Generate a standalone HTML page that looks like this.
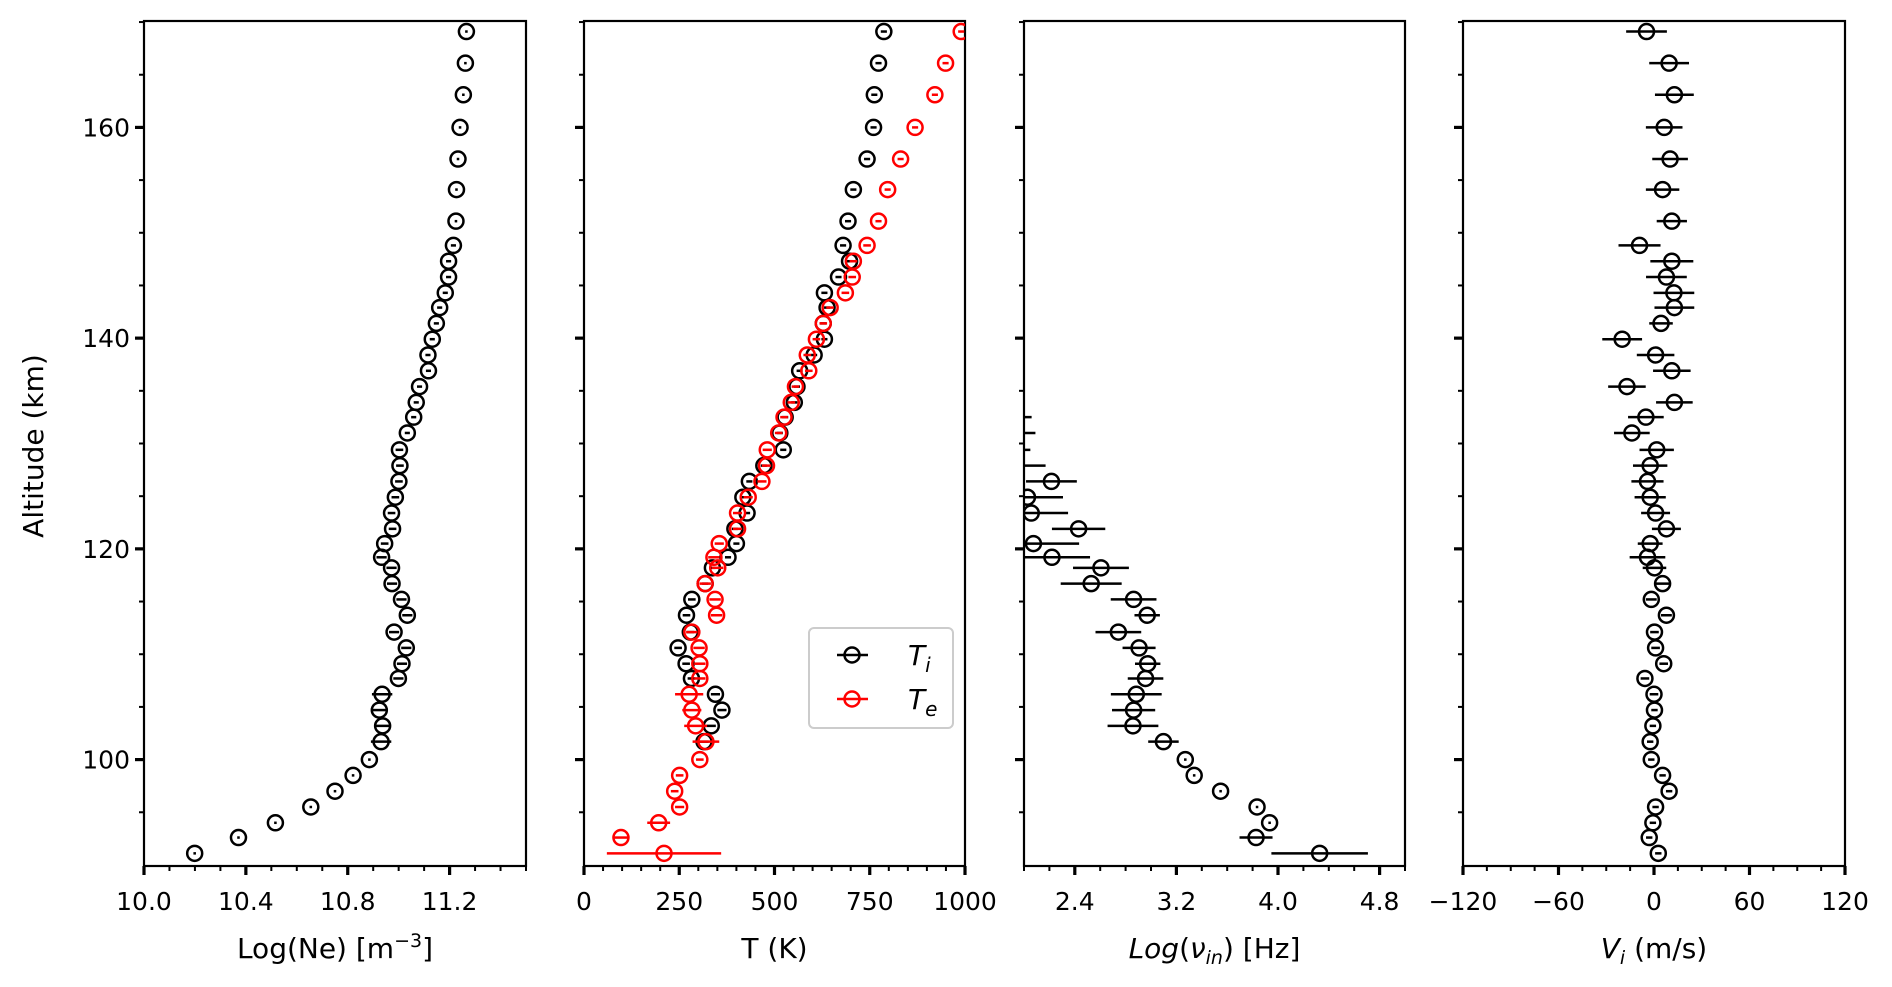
<!DOCTYPE html>
<html><head><meta charset="utf-8"><style>
html,body{margin:0;padding:0;background:#fff;}
svg{display:block;font-family:"DejaVu Sans","Liberation Sans",sans-serif;}
</style></head><body>
<svg id="fig" width="1892" height="987" viewBox="0 0 1892 987" xmlns="http://www.w3.org/2000/svg"></svg>
<script>
const altitudes=[169.1,166.1,163.1,160.0,157.0,154.1,151.1,148.8,147.3,145.8,144.3,142.9,141.4,139.9,138.4,136.9,135.4,133.9,132.5,131.0,129.4,127.9,126.4,124.9,123.4,121.9,120.5,119.2,118.2,116.7,115.2,113.7,112.1,110.6,109.1,107.7,106.2,104.7,103.2,101.7,100.0,98.5,97.0,95.5,94.0,92.6,91.1];
const logNe=[11.266,11.262,11.254,11.241,11.233,11.227,11.225,11.215,11.196,11.196,11.183,11.161,11.148,11.132,11.115,11.117,11.082,11.069,11.059,11.034,11.003,11.005,11.001,10.987,10.972,10.976,10.945,10.933,10.972,10.974,11.011,11.034,10.982,11.030,11.013,10.999,10.935,10.924,10.937,10.931,10.885,10.821,10.750,10.655,10.516,10.371,10.199];
const logNeErr=[0.005,0.005,0.005,0.005,0.005,0.005,0.005,0.01,0.01,0.01,0.01,0.01,0.01,0.01,0.01,0.01,0.01,0.01,0.01,0.01,0.015,0.015,0.015,0.015,0.015,0.015,0.015,0.02,0.02,0.02,0.02,0.02,0.02,0.02,0.02,0.02,0.04,0.03,0.03,0.04,0.005,0.005,0.005,0.005,0.005,0.005,0.005];
const Ti=[787,773,762,760,743,707,693,680,697,668,631,638,628,631,604,566,559,552,528,514,523,472,434,417,428,396,400,378,337,318,283,269,279,247,268,282,345,362,334,315,null,null,null,null,null,null,null];
const TiErr=[8,8,8,8,8,8,8,8,8,8,8,8,8,8,8,8,8,8,8,8,8,8,8,8,8,8,8,8,8,8,10,10,10,10,10,10,12,12,12,12,0,0,0,0,0,0,0];
const Te=[990,949,921,869,831,797,773,743,707,704,686,646,628,610,586,590,555,544,525,511,481,479,467,431,403,403,355,341,351,318,344,348,283,302,304,304,276,283,293,320,304,251,238,251,196,97,210];
const TeErr=[8,8,8,8,8,8,8,10,10,10,10,10,10,10,10,10,10,10,10,10,12,12,12,12,12,12,12,15,15,15,15,15,15,15,15,15,37,25,30,35,10,10,10,12,30,20,150];
const logNu=[null,null,null,null,null,null,null,null,null,null,null,null,null,null,null,null,null,null,null,null,1.85,1.85,1.85,1.85,2.216,2.027,2.057,2.43,2.074,2.22,2.606,2.529,2.863,2.97,2.743,2.906,2.974,2.957,2.884,2.863,2.858,3.098,3.27,3.34,3.548,3.835,3.934,3.827,4.328];
const logNuErr=[0,0,0,0,0,0,0,0,0,0,0,0,0,0,0,0,0,0,0,0,0.21,0.24,0.2,0.32,0.2,0.28,0.29,0.21,0.36,0.3,0.22,0.24,0.18,0.1,0.18,0.13,0.1,0.14,0.2,0.17,0.2,0.12,0.01,0.01,0.01,0.01,0.01,0.13,0.38];
const Vi=[-4.7,9.5,12.8,6.4,10.1,5.4,11.2,-9.1,11.2,7.8,12.5,12.8,4.4,-20.0,1.0,11.2,-17.0,12.8,-5.1,-13.9,1.7,-2.4,-4.1,-2.4,1.0,7.8,-2.4,-4.1,0.3,5.4,-1.7,7.8,0.3,1.0,6.1,-5.7,0.0,0.3,-0.7,-2.4,-1.7,5.4,9.5,1.0,-0.7,-3.0,2.7];
const ViErr=[12.8,12.5,12.2,11.5,11.2,10.5,9.5,13.2,13.5,12.8,12.8,12.5,7.4,12.5,11.8,11.8,11.8,11.5,11.2,11.2,10.8,10.8,10.1,9.8,9.1,9.1,7.8,11.2,7.4,4.7,3.4,3.4,2.7,2.7,2.7,2.7,2.7,2.0,2.0,2.0,2.0,2.0,2.0,2.0,2.0,2.0,2.0];
const logNuA=logNu.slice(logNu.length-altitudes.length), logNuErrA=logNuErr.slice(logNuErr.length-altitudes.length);

const NS="http://www.w3.org/2000/svg";
const svg=document.getElementById('fig');
function mk(tag,attrs,parent){const e=document.createElementNS(NS,tag);for(const k in attrs)e.setAttribute(k,attrs[k]);(parent||svg).appendChild(e);return e;}
const TOP=21,BOT=866,YMIN=89.9,YMAX=170.1;
function Y(a){return BOT-(a-YMIN)/(YMAX-YMIN)*(BOT-TOP);}

function panel(name,x0,x1,xmin,xmax,majors,minorStep,labels,ylabels,title){
  const g=mk('g',{});
  
  
  const X=v=>x0+(v-xmin)/(xmax-xmin)*(x1-x0);
  for(let v=xmin;v<=xmax+1e-9;v+=minorStep){mk('line',{x1:X(v),x2:X(v),y1:BOT,y2:BOT+5,stroke:'#000','stroke-width':2},g);}
  majors.forEach((v,i)=>{mk('line',{x1:X(v),x2:X(v),y1:BOT,y2:BOT+9,stroke:'#000','stroke-width':3.2},g);
    const t=mk('text',{x:X(v),y:910,'font-size':25,'text-anchor':'middle',fill:'#000'},g);t.textContent=labels[i];
    
    });
  for(let a=95;a<=170;a+=5){const major=a%20===0;
    mk('line',{x1:x0-(major?9:5),x2:x0,y1:Y(a),y2:Y(a),stroke:'#000','stroke-width':major?3.2:2},g);
    if(major&&ylabels){const t=mk('text',{x:x0-14,y:Y(a)+9,'font-size':25,'text-anchor':'end',fill:'#000'},g);t.textContent=a;
      
      }}
  mk('rect',{x:x0,y:TOP,width:x1-x0,height:BOT-TOP,fill:'none',stroke:'#000','stroke-width':2.2},g);
  const tt=mk('text',{x:(x0+x1)/2,y:958,'font-size':28,'text-anchor':'middle',fill:'#000'},g);
  tt.innerHTML=title;
  
  
  return {X,g};
}
function series(p,vals,errs,color,name,x0,x1){
  const cl='c'+name;
  const cpp=mk('clipPath',{id:cl});
  mk('rect',{x:x0,y:TOP-12,width:x1-x0,height:BOT-TOP+24},cpp);
  const g=mk('g',{'clip-path':'url(#'+cl+')'},p.g);
  vals.forEach((v,i)=>{if(v===null)return;const y=Y(altitudes[i]);
    const e=errs[i]||0;
    const l=mk('line',{x1:p.X(v-e),x2:p.X(v+e),y1:y,y2:y,stroke:color,'stroke-width':2.5},g);
    
    
    const c=mk('circle',{cx:p.X(v),cy:y,r:7.5,fill:'none',stroke:color,'stroke-width':2.5},g);
    
    });
}
const p1=panel('ne',144,526,10.0,11.5,[10.0,10.4,10.8,11.2],0.1,['10.0','10.4','10.8','11.2'],true,'Log(Ne) [m<tspan dy="-11" font-size="19">−3</tspan><tspan dy="11">]</tspan>');
series(p1,logNe,logNeErr,'#000','ne',144,526);
const p2=panel('temperature',584,965,0,1000,[0,250,500,750,1000],50,['0','250','500','750','1000'],false,'T (K)');
series(p2,Ti,TiErr,'#000','ti',584,965);
series(p2,Te,TeErr,'#f00','te',584,965);
const p3=panel('collision-frequency',1024,1405,2.0,5.0,[2.4,3.2,4.0,4.8],0.2,['2.4','3.2','4.0','4.8'],false,'<tspan font-style="italic">Log</tspan>(<tspan font-style="italic">ν</tspan><tspan font-style="italic" font-size="19" dy="6">in</tspan><tspan dy="-6">) [Hz]</tspan>');
series(p3,logNuA,logNuErrA,'#000','nu',1024,1405);
const p4=panel('ion-velocity',1463,1845,-120,120,[-120,-60,0,60,120],15,['−120','−60','0','60','120'],false,'<tspan font-style="italic">V</tspan><tspan font-style="italic" font-size="19" dy="6">i</tspan><tspan dy="-6"> (m/s)</tspan>');
series(p4,Vi,ViErr,'#000','vi',1463,1845);
const yt=mk('text',{x:0,y:0,'font-size':28,'text-anchor':'middle',transform:'translate(43,446) rotate(-90)',fill:'#000'});
yt.textContent='Altitude (km)';


const lg=mk('g',{});


mk('rect',{x:809,y:628,width:144,height:100,rx:5,fill:'#fff',stroke:'#ccc','stroke-width':2},lg);
[['#000','i',655],['#f00','e',699]].forEach(([c,s,y])=>{
  const e=mk('g',{},lg);
  
  
  mk('line',{x1:837,x2:868,y1:y,y2:y,stroke:c,'stroke-width':2.5},e);
  mk('circle',{cx:852,cy:y,r:7.5,fill:'none',stroke:c,'stroke-width':2.5},e);
  const t=mk('text',{x:908,y:y+10,'font-size':28,'font-style':'italic',fill:'#000'},e);
  t.innerHTML='T<tspan font-size="20" dy="7">'+s+'</tspan>';
});
</script>
</body></html>
